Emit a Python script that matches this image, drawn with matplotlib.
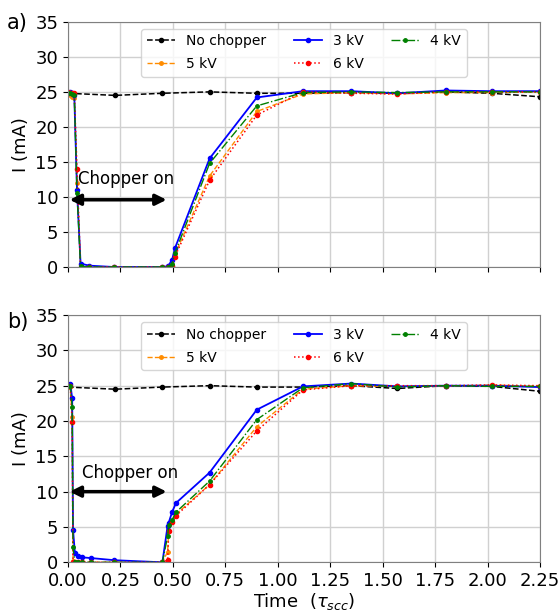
import matplotlib.pyplot as plt
import numpy as np

# time axis (tau_scc)
t_nochop = [0.0, 0.225, 0.45, 0.675, 0.9, 1.12, 1.35, 1.57, 1.8, 2.02, 2.25]
t_chop = [0.0, 0.01, 0.02, 0.03, 0.043, 0.06, 0.1, 0.22, 0.45, 0.476, 0.496,
          0.51, 0.675, 0.9, 1.12, 1.35, 1.57, 1.8, 2.02, 2.25]
t_chop_b = [0.0, 0.011, 0.02, 0.024, 0.033, 0.048, 0.067, 0.11, 0.22, 0.45,
            0.475, 0.48, 0.496, 0.515, 0.675, 0.9, 1.12, 1.35, 1.57, 1.8, 2.02, 2.25]

# panel a
a_nochop = [24.8, 24.5, 24.8, 25.0, 24.8, 24.8, 24.9, 24.8, 25.0, 24.8, 24.3]
a_3kv = [24.8, 25.0, 24.8, 24.6, 11.0, 0.5, 0.2, 0.0, 0.0, 0.1, 1.0, 2.7, 15.5, 24.2, 25.1, 25.1, 24.8, 25.2, 25.1, 25.1]
a_4kv = [24.8, 24.9, 24.7, 24.5, 10.5, 0.1, 0.0, 0.0, 0.0, 0.0, 0.4, 2.0, 14.8, 23.0, 24.9, 25.0, 24.9, 25.0, 25.0, 25.0]
a_5kv = [24.6, 24.9, 24.3, 24.1, 12.0, 0.1, 0.0, 0.0, 0.0, 0.0, 0.3, 1.8, 13.0, 22.2, 24.7, 24.9, 24.7, 24.9, 24.9, 25.0]
a_6kv = [25.0, 24.8, 24.9, 24.8, 14.0, 0.0, 0.0, 0.0, 0.0, 0.0, 0.2, 1.5, 12.4, 21.7, 25.0, 24.8, 24.7, 25.0, 25.0, 25.0]

# panel b
b_nochop = [24.8, 24.5, 24.8, 25.0, 24.8, 24.8, 25.0, 24.6, 25.0, 24.9, 24.2]
b_3kv = [25.0, 25.3, 23.2, 4.6, 1.3, 0.9, 0.7, 0.6, 0.3, 0.0, 5.2, 5.6, 7.1, 8.4, 12.7, 21.6, 24.9, 25.3, 24.9, 25.0, 25.0, 24.8]
b_4kv = [25.0, 25.0, 22.0, 2.1, 0.0, 0.0, 0.0, 0.0, 0.0, 0.0, 3.7, 5.3, 6.0, 7.1, 11.5, 20.2, 24.7, 25.3, 24.8, 25.0, 24.9, 24.9]
b_5kv = [24.8, 24.8, 20.5, 0.2, 0.0, 0.0, 0.0, 0.0, 0.0, 0.0, 1.5, 4.5, 5.7, 6.8, 11.0, 19.2, 24.5, 25.0, 24.9, 24.9, 25.1, 24.9]
b_6kv = [25.0, 25.0, 19.9, 0.0, 0.0, 0.0, 0.0, 0.0, 0.0, 0.0, 0.3, 4.5, 5.7, 6.6, 11.0, 18.6, 24.4, 25.0, 25.0, 25.0, 25.1, 25.0]

fig = plt.figure(figsize=(5.6, 6.13), dpi=100)
ax_a = fig.add_axes([0.1214, 0.5644, 0.843, 0.4])
ax_b = fig.add_axes([0.1214, 0.0827, 0.843, 0.4034])


def draw_panel(ax, t_c, nochop, kv3, kv4, kv5, kv6, arrow_y, text_x):
    ax.plot(t_nochop, nochop, "k--", marker="o", ms=3, lw=1.1, label="No chopper")
    ax.plot(t_c, kv5, color="darkorange", ls="--", marker="o", ms=2.5, lw=1.0, label="5 kV")
    ax.plot(t_c, kv3, color="blue", ls="-", marker="o", ms=3, lw=1.3, label="3 kV")
    ax.plot(t_c, kv6, color="red", ls=":", marker="o", ms=3, lw=1.1, label="6 kV")
    ax.plot(t_c, kv4, color="green", ls="-.", marker="o", ms=2.5, lw=1.0, label="4 kV")
    ax.set_xlim(0, 2.25)
    ax.set_ylim(0, 35)
    ax.set_xticks(np.arange(0, 2.26, 0.25))
    ax.set_yticks(np.arange(0, 36, 5))
    ax.grid(True, color="#d0d0d0", lw=1.0)
    ax.tick_params(labelsize=13)
    ax.set_ylabel("I (mA)", fontsize=13)
    for s in ax.spines.values():
        s.set_color("#808080")
    ax.annotate("", xy=(0.008, arrow_y), xytext=(0.47, arrow_y),
                arrowprops=dict(arrowstyle="<|-|>", color="black", lw=2.5,
                                mutation_scale=16, shrinkA=0, shrinkB=0))
    ax.text(text_x, 12.6, "Chopper on", fontsize=12, ha="left", va="center")
    ax.legend(loc="upper center", ncol=3, fontsize=10, framealpha=0.8,
              labelspacing=0.65)


draw_panel(ax_a, t_chop, a_nochop, a_3kv, a_4kv, a_5kv, a_6kv, 9.6, 0.048)
draw_panel(ax_b, t_chop_b, b_nochop, b_3kv, b_4kv, b_5kv, b_6kv, 10.0, 0.067)
ax_a.tick_params(labelbottom=False)
ax_b.set_xlabel(r"Time  ($\tau_{scc}$)", fontsize=13, labelpad=1)

fig.text(0.012, 0.962, "a)", fontsize=15, va="center")
fig.text(0.012, 0.475, "b)", fontsize=15, va="center")

fig.savefig("out.png", dpi=100)
